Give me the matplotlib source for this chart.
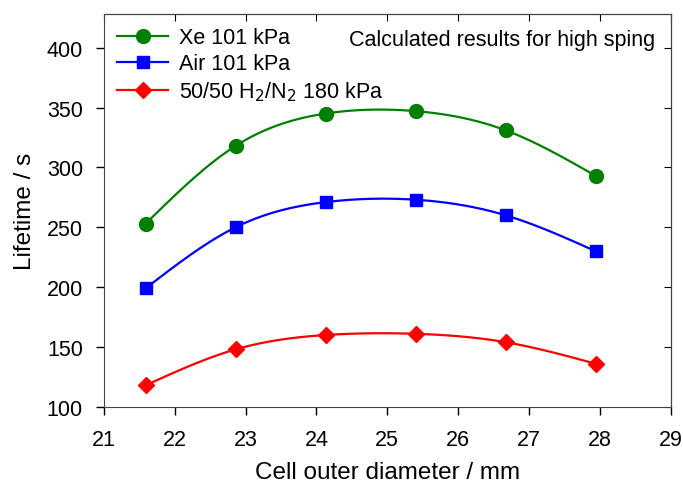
import numpy as np
import matplotlib.pyplot as plt

plt.rcParams['font.family'] = ['Liberation Sans', 'DejaVu Sans']

diameter = [21.59, 22.86, 24.13, 25.40, 26.67, 27.94]
xe = [253, 318, 345, 347, 331, 293]
air = [199, 250, 271, 273, 260, 230]
h2n2 = [118, 148, 160, 161, 154, 136]


def spline(x, y, n=200):
    # natural cubic spline, only used to draw the smooth line through the points
    x = np.asarray(x, float)
    y = np.asarray(y, float)
    m = len(x)
    h = np.diff(x)
    A = np.zeros((m, m))
    b = np.zeros(m)
    A[0, 0] = A[-1, -1] = 1
    for i in range(1, m - 1):
        A[i, i - 1] = h[i - 1]
        A[i, i] = 2 * (h[i - 1] + h[i])
        A[i, i + 1] = h[i]
        b[i] = 6 * ((y[i + 1] - y[i]) / h[i] - (y[i] - y[i - 1]) / h[i - 1])
    M = np.linalg.solve(A, b)
    xs = np.linspace(x[0], x[-1], n)
    idx = np.clip(np.searchsorted(x, xs) - 1, 0, m - 2)
    x0, x1 = x[idx], x[idx + 1]
    hh = x1 - x0
    t0, t1 = x1 - xs, xs - x0
    ys = (M[idx] * t0 ** 3 + M[idx + 1] * t1 ** 3) / (6 * hh) \
        + (y[idx] / hh - M[idx] * hh / 6) * t0 + (y[idx + 1] / hh - M[idx + 1] * hh / 6) * t1
    return xs, ys


fig, ax = plt.subplots(figsize=(6.83, 4.89), dpi=100)
fig.subplots_adjust(left=0.152, right=0.982, top=0.969, bottom=0.166)

series = [
    (xe, '#008000', 'o', 10, 'Xe 101 kPa'),
    (air, '#0000ff', 's', 8.6, 'Air 101 kPa'),
    (h2n2, '#ff0000', 'D', 8.5, r'50/50 H$_2$/N$_2$ 180 kPa'),
]
for vals, col, mk, ms, lab in series:
    xs, ys = spline(diameter, vals)
    ax.plot(xs, ys, color=col, lw=1.6)
    ax.plot(diameter, vals, ls='none', marker=mk, ms=ms, color=col, mec=col)
    ax.plot([], [], color=col, lw=1.6, marker=mk, ms=ms, label=lab)

ax.set_xlim(21, 29)
ax.set_ylim(100, 428)
ax.set_xticks(range(21, 30))
ax.set_yticks(range(100, 401, 50))
ax.tick_params(direction='out', labelsize=15.5, length=6, width=1)
ax.tick_params(axis='x', pad=10)
ax.tick_params(axis='y', pad=9)
for s in ax.spines.values():
    s.set_color('#444444')

top = ax.secondary_xaxis('top')
top.set_xticks(range(21, 30))
top.tick_params(direction='in', length=5, labeltop=False)
right = ax.secondary_yaxis('right')
right.set_yticks(range(100, 401, 50))
right.tick_params(direction='in', length=5, labelright=False)

ax.set_xlabel('Cell outer diameter / mm', fontsize=17.5, labelpad=8)
ax.set_ylabel('Lifetime / s', fontsize=17.5, labelpad=8)

ax.legend(loc='upper left', frameon=False, fontsize=15.5, handlelength=2.4,
          borderaxespad=0.2, borderpad=0.4, labelspacing=0.25, handletextpad=0.5)
ax.text(0.972, 0.936, 'Calculated results for high sping', transform=ax.transAxes,
        ha='right', va='center', fontsize=15.5)

fig.savefig('out.png', dpi=100)
